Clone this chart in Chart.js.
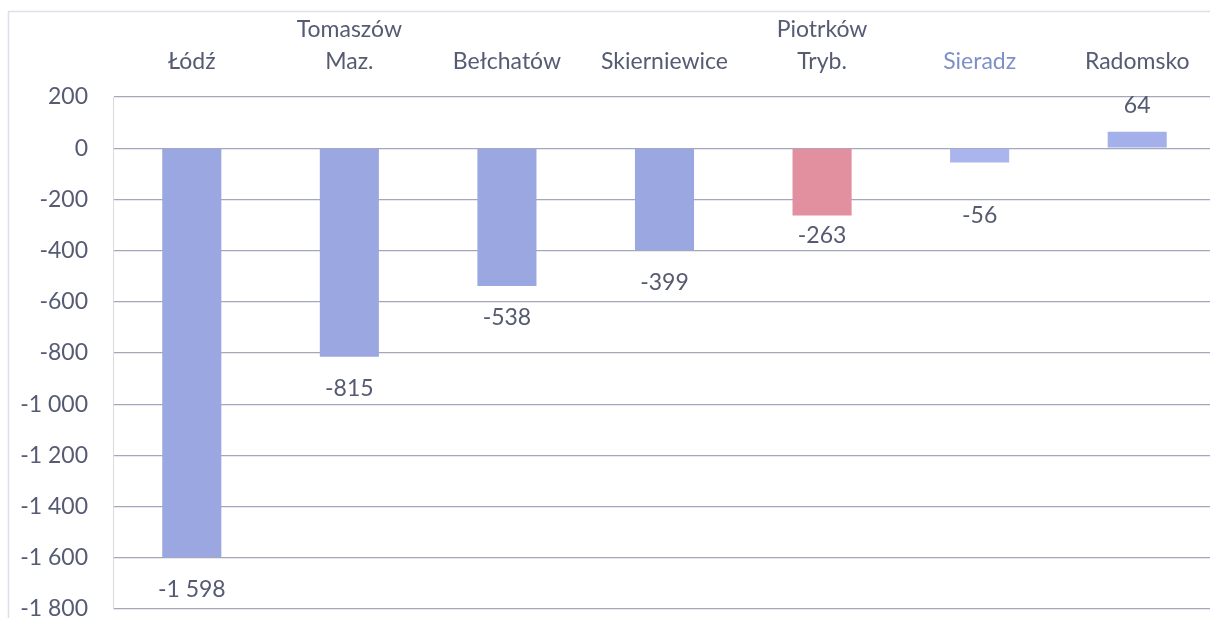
<!DOCTYPE html>
<html><head><meta charset="utf-8">
<script src="https://cdn.jsdelivr.net/npm/chart.js@4.4.1/dist/chart.umd.min.js"></script>
<style>
html,body{margin:0;padding:0;background:#fff;overflow:hidden;}
#wrap{position:relative;width:1216px;height:650px;}
</style></head><body>
<div id="wrap"><canvas id="c"></canvas></div>
<script>
const categories = [["Łódź"], ["Tomaszów", "Maz."], ["Bełchatów"], ["Skierniewice"], ["Piotrków", "Tryb."], ["Sieradz"], ["Radomsko"]];
const values = [-1598, -815, -538, -399, -263, -56, 64];
const barColors = ["#9ba7e0", "#9ba7e0", "#9ba7e0", "#9ba7e0", "#e28fa0", "#a9b5ec", "#a3b0ea"];
const categoryColors = ["#565b74", "#565b74", "#565b74", "#565b74", "#565b74", "#7f90c8", "#565b74"];
const labelOffsets = [32, 32, 32, 32, 20, 53, 26];
const yMin = -1800, yMax = 200, yStep = 200;

function fmt(v){
  const s = Math.abs(v).toString().replace(/\B(?=(\d{3})+(?!\d))/g, ' ');
  return (v < 0 ? '-' : '') + s;
}

const FONT = {family: 'Lato', size: 23, lineHeight: 1.39};

const valueLabels = {
  id: 'valueLabels',
  afterDatasetsDraw(chart){
    const ctx = chart.ctx;
    const meta = chart.getDatasetMeta(0);
    ctx.save();
    ctx.font = '23px Lato';
    ctx.fillStyle = '#565a70';
    ctx.textAlign = 'center';
    ctx.textBaseline = 'middle';
    meta.data.forEach((bar, i) => {
      const v = values[i];
      const y = v < 0 ? bar.y + labelOffsets[i] : bar.y - labelOffsets[i];
      ctx.fillText(fmt(v), bar.x, y);
    });
    ctx.restore();
  }
};

const frame = {
  id: 'frame',
  beforeDraw(chart){
    const ctx = chart.ctx;
    ctx.save();
    ctx.strokeStyle = '#dde0ea';
    ctx.lineWidth = 1.5;
    ctx.beginPath();
    ctx.moveTo(8, 11.5); ctx.lineTo(chart.width, 11.5);
    ctx.moveTo(8.5, 11); ctx.lineTo(8.5, 618);
    ctx.stroke();
    ctx.restore();
  }
};

new Chart(document.getElementById('c'), {
  type: 'bar',
  data: {
    labels: categories,
    datasets: [{
      data: values,
      backgroundColor: barColors,
      borderWidth: 0,
      barPercentage: 0.375,
      categoryPercentage: 1
    }]
  },
  options: {
    responsive: true,
    maintainAspectRatio: false,
    animation: false,
    layout: {padding: {top: 0, left: 0, right: 0, bottom: 10}},
    plugins: {legend: {display: false}, tooltip: {enabled: false}},
    scales: {
      x: {
        position: 'top',
        grid: {display: false, drawTicks: false},
        border: {display: false},
        ticks: {
          font: FONT,
          color: (c) => categoryColors[c.index],
          padding: 19,
          maxRotation: 0,
          autoSkip: false
        },
        afterFit(scale){ scale.height = 97; }
      },
      y: {
        min: yMin,
        max: yMax,
        grid: {color: '#a4a7ba', lineWidth: 1.3, drawTicks: false},
        border: {display: true, color: '#d9dbe4', width: 1},
        ticks: {
          stepSize: yStep,
          font: FONT,
          color: '#565b74',
          padding: 25,
          callback: (v) => fmt(v)
        },
        afterFit(scale){ scale.width = 113; }
      }
    }
  },
  plugins: [frame, valueLabels]
});
</script>
</body></html>
